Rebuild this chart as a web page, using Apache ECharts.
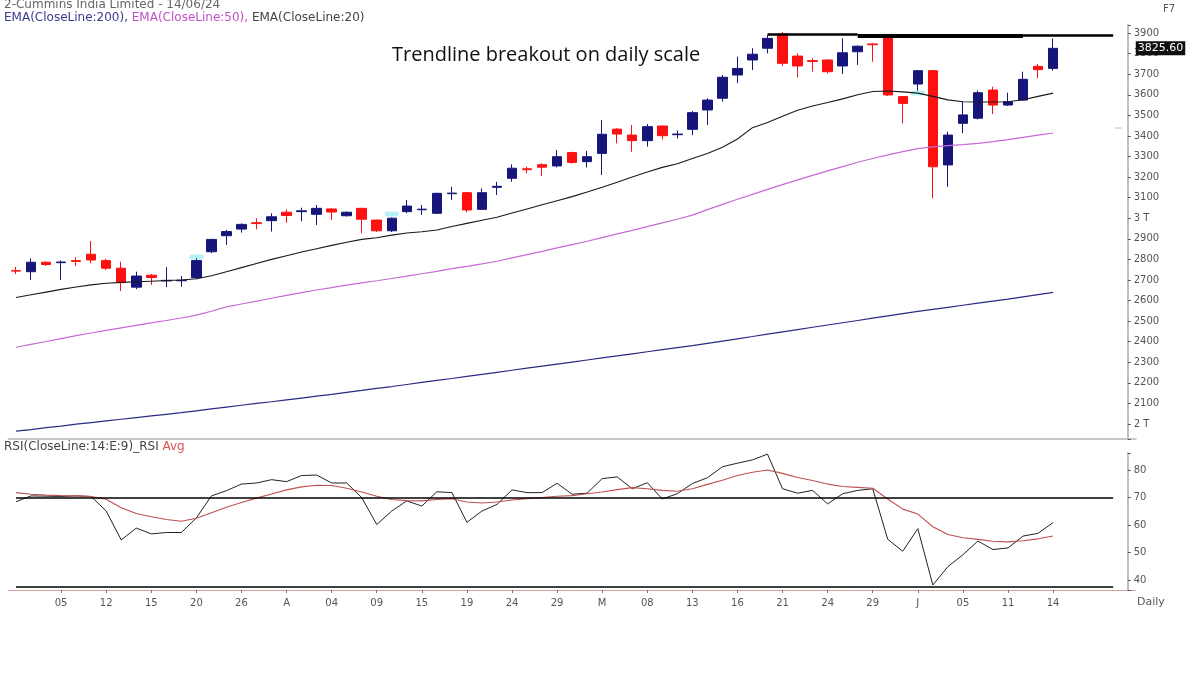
<!DOCTYPE html>
<html><head><meta charset="utf-8">
<script src="https://cdn.jsdelivr.net/npm/echarts@6/dist/echarts.min.js"></script>
<style>html,body{margin:0;padding:0;background:#fff}#c{width:1198px;height:675px}</style>
</head><body><div id="c"></div>
<script>
// ---------- DATA ----------
const dates = ['2024-02-28','2024-02-29','2024-03-04','2024-03-05','2024-03-06','2024-03-11','2024-03-12','2024-03-13','2024-03-14','2024-03-15',
'2024-03-18','2024-03-19','2024-03-20','2024-03-21','2024-03-22','2024-03-26','2024-03-27','2024-03-28','2024-04-01','2024-04-02',
'2024-04-03','2024-04-04','2024-04-05','2024-04-08','2024-04-09','2024-04-10','2024-04-12','2024-04-15','2024-04-16','2024-04-18',
'2024-04-19','2024-04-22','2024-04-23','2024-04-24','2024-04-25','2024-04-26','2024-04-29','2024-04-30','2024-05-02','2024-05-03',
'2024-05-06','2024-05-07','2024-05-08','2024-05-09','2024-05-10','2024-05-13','2024-05-14','2024-05-15','2024-05-16','2024-05-17',
'2024-05-18','2024-05-21','2024-05-22','2024-05-23','2024-05-24','2024-05-27','2024-05-28','2024-05-29','2024-05-30','2024-05-31',
'2024-06-03','2024-06-04','2024-06-05','2024-06-06','2024-06-07','2024-06-10','2024-06-11','2024-06-12','2024-06-13','2024-06-14'];
const padCategories = ['p1','p2','p3','p4','p5'];

const opens = [2745,2740,2786,2784,2794,2825,2794,2757,2665,2723,
2695,2696,2711,2837,2915,2947,2978,2988,3029,3032,
3019,3045,3012,3048,2991,2939,3032,3041,3024,3119,
3124,3043,3150,3194,3240,3260,3254,3319,3275,3315,
3433,3404,3377,3448,3406,3432,3526,3583,3696,3769,
3826,3895,3788,3766,3769,3740,3809,3847,3882,3591,
3652,3717,3259,3461,3486,3623,3550,3574,3738,3728];
const closes = [2743,2786,2775,2787,2790,2797,2757,2687,2719,2712,
2698,2699,2794,2897,2935,2970,2974,3007,3013,3036,
3048,3030,3029,2995,2939,3000,3059,3044,3121,3122,
3040,3124,3155,3243,3236,3248,3299,3271,3299,3408,
3409,3377,3445,3401,3409,3513,3574,3685,3728,3797,
3874,3753,3740,3762,3712,3804,3836,3843,3599,3558,
3717,3250,3404,3502,3610,3550,3566,3675,3722,3825.6];
const highs = [2763,2805,2790,2795,2810,2889,2803,2789,2740,2729,
2762,2719,2805,2900,2943,2975,3000,3024,3043,3051,
3064,3048,3033,3050,2993,3003,3089,3064,3123,3153,
3127,3145,3177,3262,3250,3267,3331,3323,3327,3477,
3437,3453,3458,3450,3426,3521,3583,3696,3785,3826,
3890,3905,3801,3777,3772,3874,3840,3852,3895,3594,
3720,3720,3420,3566,3620,3639,3610,3712,3749,3874];
const lows = [2729,2700,2768,2700,2768,2781,2748,2646,2655,2676,
2665,2667,2703,2830,2870,2930,2946,2935,2978,2985,
2967,2991,3008,2927,2933,2933,3024,3016,3022,3089,
3029,3040,3113,3177,3218,3205,3247,3265,3247,3210,
3364,3323,3348,3383,3388,3404,3453,3566,3656,3720,
3801,3740,3685,3712,3704,3701,3745,3761,3594,3461,
3620,3097,3153,3413,3480,3506,3545,3571,3680,3717];

const ema20 = [2615,2628,2641,2654,2666,2676,2684,2688,2691,2694,
2697,2700,2706,2720,2740,2760,2780,2800,2818,2836,
2852,2868,2883,2897,2905,2918,2928,2934,2943,2960,
2975,2990,3005,3025,3045,3065,3085,3105,3127,3150,
3175,3200,3225,3247,3265,3290,3315,3345,3385,3440,
3465,3495,3525,3545,3562,3580,3600,3616,3618,3614,
3608,3592,3575,3566,3565,3565,3566,3576,3592,3608];
const ema50 = [2373,2387,2401,2415,2429,2442,2455,2467,2479,2491,
2503,2515,2529,2548,2569,2583,2597,2611,2625,2638,
2651,2663,2675,2686,2696,2707,2719,2730,2742,2755,
2766,2778,2791,2807,2823,2839,2856,2872,2888,2906,
2924,2941,2959,2977,2995,3015,3042,3067,3092,3116,
3140,3163,3186,3208,3230,3251,3272,3290,3308,3324,
3338,3347,3353,3358,3364,3372,3382,3393,3404,3414];
const ema200 = [1965,1973,1982,1990,1999,2007,2015,2023,2031,2039,
2047,2055,2064,2073,2082,2091,2100,2108,2117,2126,
2135,2144,2154,2163,2173,2182,2192,2202,2212,2221,
2231,2241,2251,2261,2271,2281,2291,2301,2311,2321,
2331,2341,2351,2361,2371,2381,2392,2403,2414,2425,
2437,2448,2459,2470,2481,2492,2503,2514,2525,2536,
2547,2557,2567,2577,2587,2597,2607,2618,2629,2640];

const rsi = [68.5,70.6,70.5,70.4,70.6,70.4,65.1,54.6,58.9,56.8,
57.3,57.3,62.6,70.6,72.5,74.9,75.3,76.5,75.8,78,
78.2,75.3,75.3,70,60.2,65.1,68.8,66.9,72.1,71.8,
61,65.1,67.5,72.8,71.8,71.8,75.2,71.2,71.6,76.9,
77.5,73.2,75.4,69.5,71.4,75.1,77.2,81.2,82.5,83.7,
85.8,73.2,71.6,72.6,67.7,71.4,72.6,73.2,54.8,50.5,
58.7,38.2,44.9,49.2,54.2,51.1,51.7,56,57,60.9];
const rsiAvg = [71.8,71.2,70.9,70.7,70.6,70.4,69.4,66.3,64.2,63,
62,61.4,62.5,64.5,66.5,68.2,69.8,71.3,72.8,73.9,
74.5,74.4,73.4,72,70.5,69.3,68.9,68.8,69.3,69.6,
68.4,68,68.4,69.1,69.6,70,70.5,70.7,71.4,72,
72.9,73.6,73.2,72.6,72.3,73.2,74.8,76.3,78,79.2,
80,78.8,77.3,76.2,74.9,74,73.7,73.4,69.5,65.8,
64,59.4,56.6,55.4,54.8,54.1,53.9,54.3,55,56];

const tickIndex = [3,6,9,12,15,18,21,24,27,30,33,36,39,42,45,48,51,54,57,60,63,66,69];
const tickText  = ['05','12','15','20','26','A','04','09','15','19','24','29','M','08','13','16','21','24','29','J','05','11','14'];
const priceAbbrev = [[3000,'3 T'],[2000,'2 T']];
const lastPrice = 3825.6;
const rsiLevels = [70, 37.5];
const trendSegments = [[50,56,3896,2.5],[56,67,3889,4],[67,73,3888,2.5]];
const crossMarks = [[12,2812],[25,3020],[60,3608]];

// ---------- CHART ----------
const cats = dates.concat(padCategories);
const ohlc = opens.map((o,i)=>[o, closes[i], lows[i], highs[i]]);
const GW = cats.length * 15.03;
const FONT = 'DejaVu Sans';
const isTick = (i)=> tickIndex.indexOf(i) >= 0;

const chart = echarts.init(document.getElementById('c'), null, {renderer:'canvas'});
const option = {
  animation:false,
  backgroundColor:'#ffffff',
  grid:[
    {left:8.5, top:25, width:GW, height:414, outerBoundsMode:'none'},
    {left:8.5, top:453, width:GW, height:137, outerBoundsMode:'none'}
  ],
  xAxis:[
    {type:'category', gridIndex:0, data:cats, boundaryGap:true,
     axisLine:{show:true, lineStyle:{color:'#c8c8c8', width:2}},
     axisTick:{show:false}, axisLabel:{show:false}, splitLine:{show:false}},
    {type:'category', gridIndex:1, data:cats, boundaryGap:true,
     axisLine:{show:true, lineStyle:{color:'#d4a0a0', width:1}},
     axisTick:{show:true, interval:(i)=>isTick(i), length:3, alignWithLabel:true, lineStyle:{color:'#777'}},
     axisLabel:{interval:(i)=>isTick(i), formatter:(v,i)=>{const k=tickIndex.indexOf(i); return k>=0?tickText[k]:'';},
       color:'#555', fontSize:10, fontFamily:FONT, margin:8},
     splitLine:{show:false}}
  ],
  yAxis:[
    {type:'value', gridIndex:0, position:'right', offset:-8, min:1927, max:3939, splitNumber:20,
     axisLine:{show:true, lineStyle:{color:'#aaa', width:1.5}},
     axisTick:{show:true, length:3, lineStyle:{color:'#555'}},
     axisLabel:{color:'#555', fontSize:10, fontFamily:FONT, margin:6,
       formatter:(v)=>{ if (Math.abs(v%100)>1e-6) return ''; const a=priceAbbrev.find(p=>p[0]===v); return a?a[1]:String(v);} },
     splitLine:{show:false}},
    {type:'value', gridIndex:1, position:'right', offset:-8, min:36.4, max:86.2, splitNumber:5,
     axisLine:{show:true, lineStyle:{color:'#aaa', width:1.5}},
     axisTick:{show:true, length:3, lineStyle:{color:'#555'}},
     axisLabel:{color:'#555', fontSize:10, fontFamily:FONT, margin:6,
       formatter:(v)=> Math.abs(v%10)>1e-6 ? '' : String(v)},
     splitLine:{show:false}}
  ],
  series:[
    {name:'EMA200', type:'line', xAxisIndex:0, yAxisIndex:0, data:ema200, symbol:'none', silent:true,
     lineStyle:{color:'#2a2a85', width:1.2}},
    {name:'EMA50', type:'line', xAxisIndex:0, yAxisIndex:0, data:ema50, symbol:'none', silent:true,
     lineStyle:{color:'#c86ad6', width:1.2}},
    {name:'EMA20', type:'line', xAxisIndex:0, yAxisIndex:0, data:ema20, symbol:'none', silent:true,
     lineStyle:{color:'#1a1a1a', width:1.1}},
    {name:'marks', type:'scatter', xAxisIndex:0, yAxisIndex:0, data:crossMarks, symbol:'roundRect',
     symbolSize:[14,5], silent:true, itemStyle:{color:'#a6eef2'}},
    {name:'Price', type:'candlestick', xAxisIndex:0, yAxisIndex:0, data:ohlc, barWidth:10, silent:true,
     itemStyle:{color:'#16167a', color0:'#ff1010', borderColor:'#16167a', borderColor0:'#ff1010', borderWidth:1},
     markLine:{silent:true, symbol:['none','none'], animation:false,
       data:[
         {yAxis:lastPrice, lineStyle:{color:'rgba(0,0,0,0)', width:0},
          label:{show:true, position:'end', distance:0, formatter:lastPrice.toFixed(2), color:'#fff',
                 backgroundColor:'#111', padding:[2,2,1,2], fontSize:11, fontFamily:FONT}}
       ].concat(trendSegments.map(s=>[
         {coord:[s[0], s[2]], lineStyle:{color:'#000', width:s[3], type:'solid'}, label:{show:false}},
         {coord:[s[1], s[2]]}
       ]))
     }},
    {name:'RSI', type:'line', xAxisIndex:1, yAxisIndex:1, data:rsi, symbol:'none', silent:true,
     lineStyle:{color:'#222', width:1},
     markLine:{silent:true, symbol:['none','none'], animation:false,
       data: rsiLevels.map(v=>[
         {coord:[0, v], lineStyle:{color:'#000', width:1.5, type:'solid'}, label:{show:false}},
         {coord:[73, v]}
       ])}},
    {name:'Avg', type:'line', xAxisIndex:1, yAxisIndex:1, data:rsiAvg, symbol:'none', silent:true,
     lineStyle:{color:'#c05050', width:1.1}}
  ],
  graphic:[
    {type:'text', left:4, top:-1, style:{text:'2-Cummins India Limited - 14/06/24', font:'12px "DejaVu Sans"', fill:'#666'}},
    {type:'text', left:4, top:12, style:{
      text:'{a|EMA(CloseLine:200),} {b|EMA(CloseLine:50),} {c|EMA(CloseLine:20)}',
      font:'12px "DejaVu Sans"',
      rich:{a:{fill:'#3a3a90', color:'#3a3a90', font:'12px "DejaVu Sans"'},
            b:{fill:'#c050c8', color:'#c050c8', font:'12px "DejaVu Sans"'},
            c:{fill:'#444', color:'#444', font:'12px "DejaVu Sans"'}}}},
    {type:'text', left:4, top:441, style:{
      text:'{a|RSI(CloseLine:14:E:9)_RSI} {b|Avg}',
      font:'12px "DejaVu Sans"',
      rich:{a:{fill:'#444', color:'#444', font:'12px "DejaVu Sans"'},
            b:{fill:'#e05050', color:'#e05050', font:'12px "DejaVu Sans"'}}}},
    {type:'text', left:392, top:45, style:{text:'Trendline breakout on daily scale', font:'20px "Open Sans"', fill:'#111'}},
    {type:'text', left:1163, top:4, style:{text:'F7', font:'10px "DejaVu Sans"', fill:'#555'}},
    {type:'text', left:1137, top:597, style:{text:'Daily', font:'11px "DejaVu Sans"', fill:'#555'}},
    {type:'line', shape:{x1:1115, y1:128, x2:1122, y2:128}, style:{stroke:'#e8a8a8', lineWidth:1}}
  ]
};
chart.setOption(option);
</script>
</body></html>
